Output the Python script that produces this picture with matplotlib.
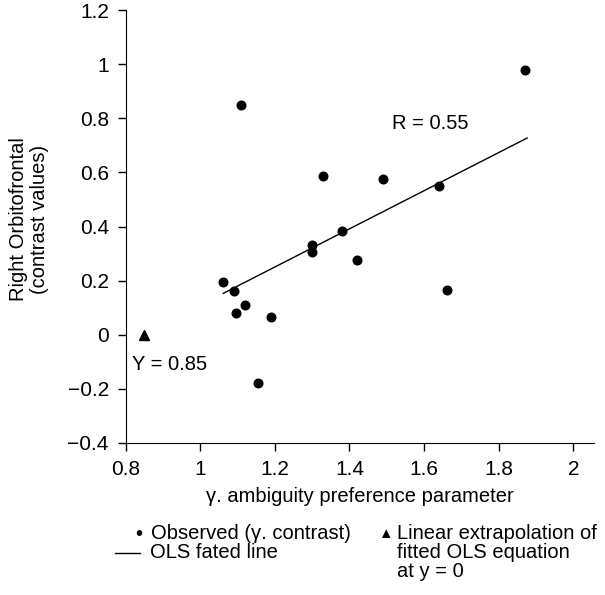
import numpy as np
import matplotlib.pyplot as plt

plt.rcParams['font.family'] = ['Liberation Sans', 'DejaVu Sans']

# observed points (gamma, contrast)
gamma = [1.87, 1.11, 1.33, 1.49, 1.64, 1.38, 1.30, 1.30, 1.42,
         1.06, 1.09, 1.66, 1.12, 1.095, 1.19, 1.155]
contrast = [0.98, 0.85, 0.585, 0.575, 0.55, 0.385, 0.33, 0.305, 0.275,
            0.195, 0.16, 0.165, 0.11, 0.08, 0.065, -0.18]

# OLS fitted line endpoints
ols_x = [1.062, 1.876]
ols_y = [0.153, 0.727]

# extrapolated point at y = 0
extrap_x = [0.85]
extrap_y = [0.0]

xticks = [0.8, 1, 1.2, 1.4, 1.6, 1.8, 2]
xtick_labels = ['0.8', '1', '1.2', '1.4', '1.6', '1.8', '2']
yticks = [-0.4, -0.2, 0, 0.2, 0.4, 0.6, 0.8, 1, 1.2]
ytick_labels = ['\u22120.4', '\u22120.2', '0', '0.2', '0.4', '0.6', '0.8', '1', '1.2']

fs = 14.5
W, H = 605, 595

fig = plt.figure(figsize=(6.05, 5.95), dpi=100)
ax = fig.add_axes([125.5 / W, 1 - 443 / H, (594 - 125.5) / W, (443 - 10) / H])

ax.plot(gamma, contrast, 'o', color='black', markersize=6.2)
ax.plot(ols_x, ols_y, '-', color='black', linewidth=1)
ax.plot(extrap_x, extrap_y, '^', color='black', markersize=7.5)

ax.text(1.513, 0.760, 'R = 0.55', fontsize=fs, va='baseline', ha='left')
ax.text(0.817, -0.130, 'Y = 0.85', fontsize=fs, va='baseline', ha='left')

ax.set_xlim(0.8, 2.055)
ax.set_ylim(-0.4, 1.2)
ax.set_xticks(xticks)
ax.set_xticklabels(xtick_labels)
ax.set_yticks(yticks)
ax.set_yticklabels(ytick_labels)
ax.tick_params(direction='out', length=6, width=1, labelsize=15, pad=6)

ax.spines['top'].set_visible(False)
ax.spines['right'].set_visible(False)

ax.set_xlabel('\u03b3. ambiguity preference parameter', fontsize=fs, labelpad=6)
fig.text(29 / W, 1 - 219.5 / H, 'Right Orbitofrontal\n(contrast values)', fontsize=fs,
         rotation=90, ha='center', va='center', multialignment='center', linespacing=1.1)

# legend below the axis, drawn as text
fig.text(139 / W, 1 - 534 / H, '\u2022', fontsize=fs, ha='center', va='center')
fig.text(151 / W, 1 - 539 / H, 'Observed (\u03b3. contrast)', fontsize=fs, va='baseline')
fig.add_artist(plt.Line2D([115 / W, 140 / W], [1 - 553 / H, 1 - 553 / H],
                          color='black', linewidth=1, transform=fig.transFigure))
fig.text(150 / W, 1 - 558 / H, 'OLS fated line', fontsize=fs, va='baseline')
fig.text(385 / W, 1 - 534.5 / H, '\u25b2', fontsize=10.5, ha='center', va='center')
fig.text(397 / W, 1 - 539 / H, 'Linear extrapolation of', fontsize=fs, va='baseline')
fig.text(397 / W, 1 - 558 / H, 'fitted OLS equation', fontsize=fs, va='baseline')
fig.text(397 / W, 1 - 577 / H, 'at y = 0', fontsize=fs, va='baseline')

fig.savefig('out.png', dpi=100)
